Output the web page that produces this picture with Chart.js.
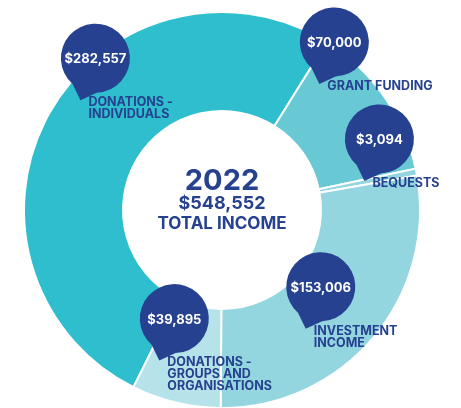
<!DOCTYPE html>
<html>
<head>
<meta charset="utf-8">
<script src="https://cdn.jsdelivr.net/npm/chart.js@4"></script>
<style>
    html, body { margin: 0; padding: 0; background: #ffffff; overflow: hidden; }
    #wrap { width: 461px; height: 420px; }
</style>
</head>
<body>
<div id="wrap"><canvas id="incomeChart" width="461" height="420"></canvas></div>
<script>
const categories = ["DONATIONS -\nINDIVIDUALS", "GRANT FUNDING", "BEQUESTS", "INVESTMENT\nINCOME", "DONATIONS -\nGROUPS AND\nORGANISATIONS"];
const amounts = [282557, 70000, 3094, 153006, 39895];
const centerYear = "2022";
const centerLabel = "TOTAL INCOME";

const sliceColors = ["#2ebece", "#68c9d5", "#93d6df", "#93d6df", "#b6e2e9"];
const navy = "#26418f";

// where each pin's tail touches the ring: angle from top (deg), fraction of outer radius
const pinSpots = [[307.8, 0.905], [37.7, 0.804], [78.5, 0.734], [144.8, 0.734], [202.6, 0.824]];

function money(v) {
    return "$" + v.toLocaleString("en-US");
}

const pinPlugin = {
    id: "pins",
    afterDraw(chart) {
        const ctx = chart.ctx;
        const meta = chart.getDatasetMeta(0);
        const first = meta.data[0];
        const cx = first.x, cy = first.y, R = first.outerRadius;
        const total = amounts.reduce((a, b) => a + b, 0);

        // centre text
        ctx.save();
        ctx.fillStyle = navy;
        ctx.textAlign = "center";
        ctx.textBaseline = "middle";
        ctx.font = "bold 29px Inter";
        ctx.fillText(centerYear, cx, cy - 29);
        ctx.font = "bold 18px Inter";
        ctx.fillText(money(total), cx, cy - 6);
        ctx.font = "bold 17px Inter";
        ctx.fillText(centerLabel, cx, cy + 14);
        ctx.restore();

        meta.data.forEach((arc, i) => {
            const [deg, frac] = pinSpots[i];
            const a = deg * Math.PI / 180;
            const tx = cx + Math.sin(a) * R * frac;
            const ty = cy - Math.cos(a) * R * frac;
            const px = tx + 15, py = ty - 42, pr = 34.5;

            // tear-drop pin
            const dir = Math.atan2(ty - py, tx - px);
            ctx.save();
            ctx.fillStyle = navy;
            ctx.beginPath();
            ctx.arc(px, py, pr, dir + 0.38, dir - 0.38 + Math.PI * 2);
            ctx.lineTo(tx, ty);
            ctx.closePath();
            ctx.fill();

            ctx.fillStyle = "#ffffff";
            ctx.textAlign = "center";
            ctx.textBaseline = "middle";
            ctx.font = "bold 13px Inter";
            ctx.fillText(money(amounts[i]), px, py + 1);

            // label
            ctx.fillStyle = navy;
            ctx.textAlign = "left";
            ctx.font = "bold 12.5px Inter";
            categories[i].split("\n").forEach((line, k) => {
                ctx.fillText(line, tx + 8, ty + 2 + k * 12);
            });
            ctx.restore();
        });
    }
};

new Chart(document.getElementById("incomeChart").getContext("2d"), {
    type: "doughnut",
    data: {
        labels: categories,
        datasets: [{
            data: amounts,
            backgroundColor: sliceColors,
            borderColor: "#ffffff",
            borderWidth: 2
        }]
    },
    options: {
        responsive: false,
        animation: false,
        cutout: "50%",
        rotation: 32 - 360 * amounts[0] / amounts.reduce((a, b) => a + b, 0),
        layout: { padding: { left: 23, right: 40, top: 11, bottom: 11 } },
        plugins: {
            legend: { display: false },
            tooltip: { enabled: false }
        }
    },
    plugins: [pinPlugin]
});
</script>
</body>
</html>
